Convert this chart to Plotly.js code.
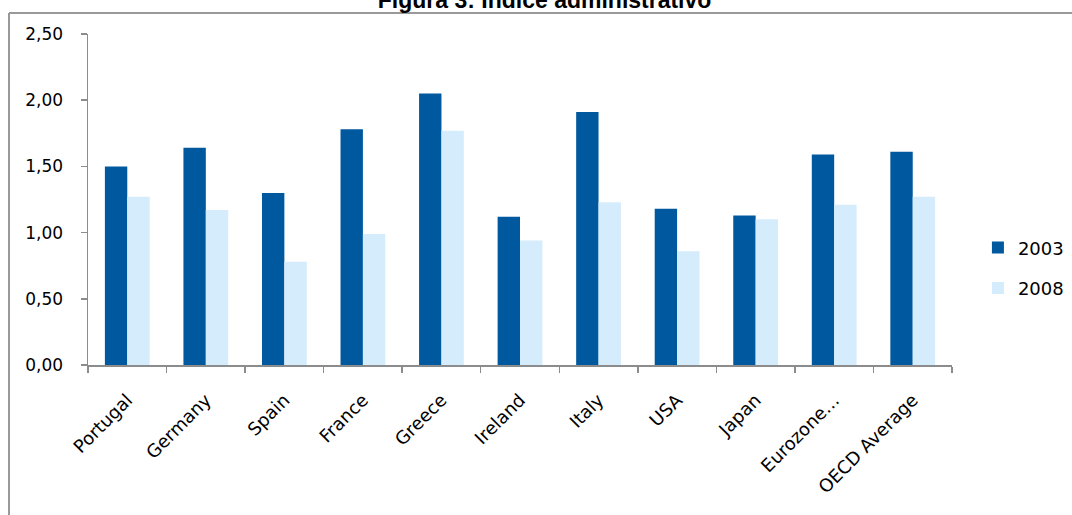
<!DOCTYPE html>
<html>
<head>
<meta charset="utf-8">
<script src="https://cdn.plot.ly/plotly-3.0.1.min.js"></script>
<style>
  html, body { margin: 0; padding: 0; background: #fff; }
  #chart { width: 1072px; height: 515px; }
</style>
</head>
<body>
<div id="chart"></div>
<script>
const categories = ["Portugal", "Germany", "Spain", "France", "Greece", "Ireland", "Italy", "USA", "Japan", "Eurozone…", "OECD Average"];
const values2003 = [1.50, 1.64, 1.30, 1.78, 2.05, 1.12, 1.91, 1.18, 1.13, 1.59, 1.61];
const values2008 = [1.27, 1.17, 0.78, 0.99, 1.77, 0.94, 1.23, 0.86, 1.10, 1.21, 1.27];
const seriesNames = ["2003", "2008"];
const titleText = "Figura 3: Índice administrativo";

const FONT = "DejaVu Sans, Verdana, sans-serif";

const traces = [
  {
    type: "bar", name: seriesNames[0], x: categories, y: values2003,
    marker: { color: "#00589F", line: { width: 0 } }, legendgroup: "a"
  },
  {
    type: "bar", name: seriesNames[1], x: categories, y: values2008,
    marker: { color: "#D4ECFC", line: { width: 0 } }, legendgroup: "b"
  }
];

// frame lines (top and left), in paper coords of a plot area at l=88, r=952, t=34, b=365
const px = v => (v - 88) / 864;
const py = v => (365 - v) / 331;

const layout = {
  width: 1072, height: 515,
  margin: { l: 88, r: 120, t: 34, b: 150, autoexpand: false },
  paper_bgcolor: "#fff", plot_bgcolor: "#fff",
  separators: ", ",
  font: { family: FONT, size: 17, color: "#000" },
  title: {
    text: titleText,
    font: { family: "Liberation Sans, Arial, sans-serif", size: 23, weight: "bold", color: "#000" },
    xref: "container", yref: "container", x: 0.508, xanchor: "center", y: 1.0, yanchor: "middle"
  },
  barmode: "group", bargap: 0.43, bargroupgap: 0,
  xaxis: {
    type: "category", showline: true, linecolor: "#8c8c8c", linewidth: 1.5,
    ticks: "outside", tickson: "boundaries", ticklen: 6, tickcolor: "#8c8c8c", tickwidth: 1.5,
    tickangle: -45, showgrid: false, zeroline: false, ticklabelstandoff: 16, automargin: false,
    tickfont: { family: FONT, size: 18, color: "#000" }
  },
  yaxis: {
    range: [0, 2.5], dtick: 0.5, tickformat: ".2f",
    showline: true, linecolor: "#8c8c8c", linewidth: 1.5,
    ticks: "outside", ticklen: 6, tickcolor: "#8c8c8c", tickwidth: 1.5,
    showgrid: false, zeroline: false, ticklabelstandoff: 14, automargin: false,
    tickfont: { family: FONT, size: 17, color: "#000" }
  },
  legend: {
    x: 1.030, xanchor: "left", y: 0.41, yanchor: "top",
    traceorder: "grouped", tracegroupgap: 14,
    font: { family: FONT, size: 18, color: "#000" },
    itemwidth: 30, bgcolor: "rgba(0,0,0,0)"
  },
  shapes: [
    { type: "line", xref: "paper", yref: "paper", x0: px(9), x1: px(1072), y0: py(13), y1: py(13),
      line: { color: "#999", width: 2 }, layer: "below" },
    { type: "line", xref: "paper", yref: "paper", x0: px(9), x1: px(9), y0: py(13), y1: py(515),
      line: { color: "#999", width: 2 }, layer: "below" }
  ],
  showlegend: true
};

Plotly.newPlot("chart", traces, layout, { displayModeBar: false, staticPlot: true });
</script>
</body>
</html>
